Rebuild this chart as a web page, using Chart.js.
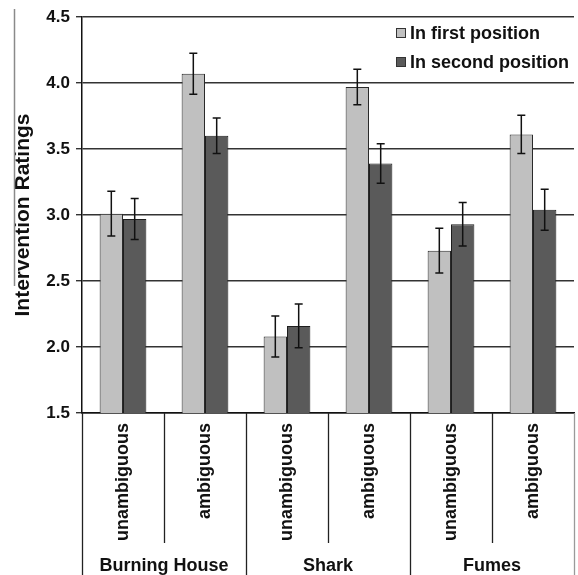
<!DOCTYPE html>
<html>
<head>
<meta charset="utf-8">
<script src="https://cdn.jsdelivr.net/npm/chart.js@4/dist/chart.umd.min.js"></script>
<style>
  html, body { margin: 0; padding: 0; background: #fff; }
  #wrap { width: 578px; height: 575px; }
</style>
</head>
<body>
<div id="wrap"><canvas id="c" width="578" height="575"></canvas></div>
<script>
// Conditions (one bar pair per condition) and the scenario each belongs to
const conditions = ['unambiguous', 'ambiguous', 'unambiguous', 'ambiguous', 'unambiguous', 'ambiguous'];
const scenarios = ['Burning House', 'Shark', 'Fumes'];

// Mean intervention ratings
const firstPosition  = [3.01, 4.07, 2.08, 3.97, 2.73, 3.61];
const secondPosition = [2.97, 3.60, 2.16, 3.39, 2.93, 3.04];

// Standard errors
const firstPositionErr  = [0.17, 0.155, 0.155, 0.135, 0.17, 0.145];
const secondPositionErr = [0.155, 0.135, 0.165, 0.15, 0.165, 0.155];

// Y axis ticks
const yTicks = [1.5, 2.0, 2.5, 3.0, 3.5, 4.0, 4.5];

const FONT = '"Liberation Sans", Arial, sans-serif';

// Whisker lines on top of each bar
const errorBars = {
  id: 'errorBars',
  afterDatasetsDraw(chart) {
    const { ctx } = chart;
    const y = chart.scales.y;
    ctx.save();
    ctx.strokeStyle = '#111';
    ctx.lineWidth = 1.5;
    chart.data.datasets.forEach((ds, i) => {
      const meta = chart.getDatasetMeta(i);
      meta.data.forEach((bar, j) => {
        const v = ds.data[j], e = ds.errors[j];
        const top = y.getPixelForValue(v + e);
        const bot = y.getPixelForValue(v - e);
        const cap = 4;
        ctx.beginPath();
        ctx.moveTo(bar.x, top); ctx.lineTo(bar.x, bot);
        ctx.moveTo(bar.x - cap, top); ctx.lineTo(bar.x + cap, top);
        ctx.moveTo(bar.x - cap, bot); ctx.lineTo(bar.x + cap, bot);
        ctx.stroke();
      });
    });
    ctx.restore();
  }
};

// Category dividers, scenario names, legend and the thin rule at the far left
const decorations = {
  id: 'decorations',
  afterDraw(chart) {
    const { ctx, chartArea } = chart;
    const x = chart.scales.x;
    const H = chart.height;
    ctx.save();

    // dividers below the axis
    ctx.lineWidth = 1.3;
    for (let i = 0; i <= conditions.length; i++) {
      const px = Math.round(x.getPixelForValue(i - 0.5)) + 0.5;
      const groupEdge = i % 2 === 0;
      ctx.strokeStyle = (i === conditions.length) ? '#9a9a9a' : '#222';
      ctx.beginPath();
      ctx.moveTo(px, chartArea.bottom);
      ctx.lineTo(px, groupEdge ? H : chartArea.bottom + 130);
      ctx.stroke();
    }

    // scenario names
    ctx.fillStyle = '#111';
    ctx.font = 'bold 18px ' + FONT;
    ctx.textAlign = 'center';
    ctx.textBaseline = 'alphabetic';
    scenarios.forEach((name, g) => {
      const cx = x.getPixelForValue(g * 2 + 0.5);
      ctx.fillText(name, cx, H - 4);
    });

    // legend
    const lx = chartArea.right - 178;
    const rows = [chartArea.top + 16, chartArea.top + 45];
    ctx.textAlign = 'left';
    ctx.textBaseline = 'middle';
    chart.data.datasets.forEach((ds, i) => {
      const cy = rows[i];
      ctx.fillStyle = ds.backgroundColor;
      ctx.fillRect(lx, cy - 5, 10, 10);
      ctx.strokeStyle = '#333';
      ctx.lineWidth = 1;
      ctx.strokeRect(lx + 0.5, cy - 4.5, 9, 9);
      ctx.fillStyle = '#111';
      ctx.fillText(ds.label, lx + 14, cy + 1);
    });

    // thin grey rule at the left edge
    ctx.strokeStyle = '#8a8a8a';
    ctx.lineWidth = 1.5;
    ctx.beginPath();
    ctx.moveTo(14.5, 9);
    ctx.lineTo(14.5, 286);
    ctx.stroke();

    ctx.restore();
  }
};

new Chart(document.getElementById('c'), {
  type: 'bar',
  data: {
    labels: conditions,
    datasets: [
      {
        label: 'In first position',
        data: firstPosition,
        errors: firstPositionErr,
        backgroundColor: '#c0c0c0',
        borderColor: '#2a2a2a',
        borderWidth: 1
      },
      {
        label: 'In second position',
        data: secondPosition,
        errors: secondPositionErr,
        backgroundColor: '#5a5a5a',
        borderColor: '#1e1e1e',
        borderWidth: 1
      }
    ]
  },
  options: {
    responsive: false,
    devicePixelRatio: 1,
    animation: false,
    categoryPercentage: 0.57,
    barPercentage: 1.0,
    layout: { padding: { top: 17, right: 4, left: 0, bottom: 0 } },
    plugins: {
      legend: { display: false },
      tooltip: { enabled: false }
    },
    scales: {
      x: {
        afterFit(scale) { scale.height = 162; },
        grid: { display: true, drawOnChartArea: false, drawTicks: false, color: 'rgba(0,0,0,0)' },
        border: { display: true, color: '#111', width: 1.5 },
        ticks: {
          autoSkip: false,
          minRotation: 90,
          maxRotation: 90,
          padding: 10,
          color: '#111',
          font: { family: FONT, size: 18, weight: 'bold' }
        }
      },
      y: {
        min: yTicks[0],
        max: yTicks[yTicks.length - 1],
        afterFit(scale) { scale.width = 82; },
        afterBuildTicks(scale) { scale.ticks = yTicks.map(v => ({ value: v })); },
        title: {
          display: true,
          text: 'Intervention Ratings',
          color: '#111',
          font: { family: FONT, size: 21, weight: 'bold' },
          padding: { top: 11, bottom: 0 }
        },
        grid: { color: '#333', lineWidth: 1.4, tickLength: 6, drawTicks: true },
        border: { display: true, color: '#111', width: 1.5 },
        ticks: {
          padding: 6,
          color: '#111',
          font: { family: FONT, size: 17, weight: 'bold' },
          callback: v => Number(v).toFixed(1)
        }
      }
    }
  },
  plugins: [errorBars, decorations]
});
</script>
</body>
</html>
